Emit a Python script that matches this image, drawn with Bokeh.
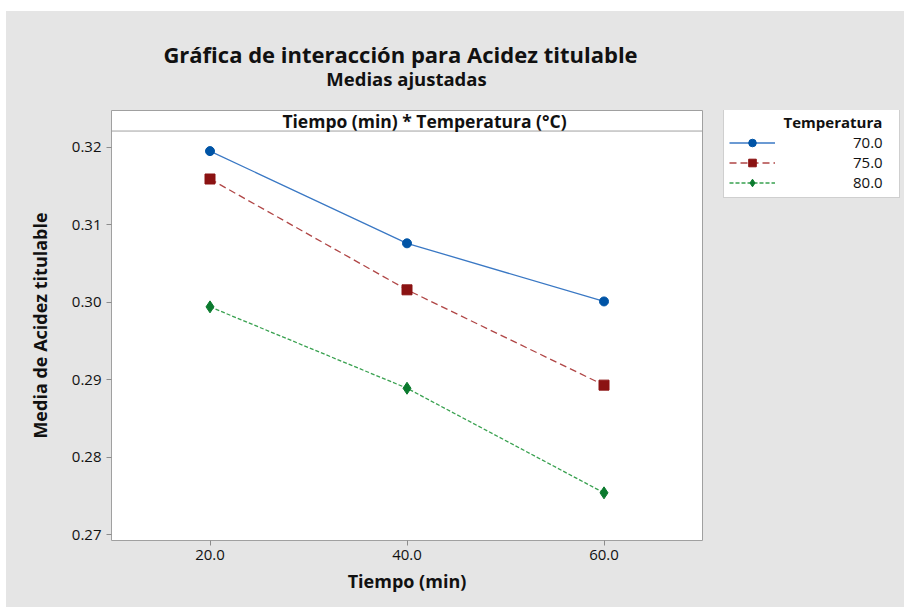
from bokeh.plotting import figure
from bokeh.models import (FixedTicker, PrintfTickFormatter, Label, Legend, LegendItem,
                          Span, Spacer)
from bokeh.layouts import row, column
from bokeh.embed import file_html
from bokeh.resources import INLINE

# ---- data ----
tiempo = [20, 40, 60]
temperaturas = ["70.0", "75.0", "80.0"]
media_70 = [0.3195, 0.3076, 0.3001]
media_75 = [0.3159, 0.3016, 0.2893]
media_80 = [0.2994, 0.2889, 0.2754]
y_ticks = [0.27, 0.28, 0.29, 0.30, 0.31, 0.32]
x_ticks = [20, 40, 60]

title_text = "Gráfica de interacción para Acidez titulable"
subtitle_text = "Medias ajustadas"
panel_text = "Tiempo (min) * Temperatura (°C)"
legend_title = "Temperatura"
x_label = "Tiempo (min)"
y_label = "Media de Acidez titulable"

FONT = "Open Sans"
BG = "#e5e5e5"
FRAME = "#a0a0a0"
INK = "#111111"

def blank_fig(w, h):
    f = figure(width=w, height=h, x_range=(0, 1), y_range=(0, 1),
               x_axis_type=None, y_axis_type=None, min_border=0,
               output_backend="svg", toolbar_location=None,
               background_fill_alpha=0, border_fill_alpha=0)
    f.outline_line_color = None
    return f

# ---- title strip ----
p_top = blank_fig(898, 98)
p_top.add_layout(Label(x=394, y=56, x_units="screen", y_units="screen", text=title_text,
                       text_align="center", text_baseline="middle", text_font=FONT,
                       text_font_size="22px", text_font_style="bold", text_color=INK))
p_top.add_layout(Label(x=400, y=31, x_units="screen", y_units="screen", text=subtitle_text,
                       text_align="center", text_baseline="middle", text_font=FONT,
                       text_font_size="18.5px", text_font_style="bold", text_color=INK))

# ---- main plot ----
p = figure(width=710, height=498, x_range=(10, 70), y_range=(0.26925, 0.32474),
           output_backend="svg", toolbar_location=None, title=None,
           min_border_left=105, min_border_right=14, min_border_top=1,
           min_border_bottom=67, background_fill_color="white",
           border_fill_alpha=0)
p.outline_line_color = FRAME
p.outline_line_width = 1
p.grid.visible = False

p.xaxis.ticker = FixedTicker(ticks=x_ticks)
p.xaxis.formatter = PrintfTickFormatter(format="%.1f")
p.yaxis.ticker = FixedTicker(ticks=y_ticks)
p.yaxis.formatter = PrintfTickFormatter(format="%.2f")
p.xaxis.axis_label = x_label
p.yaxis.axis_label = y_label
for ax in (p.xaxis[0], p.yaxis[0]):
    ax.axis_line_color = None
    ax.major_tick_line_color = "#8c8c8c"
    ax.major_tick_out = 5
    ax.major_tick_in = 0
    ax.minor_tick_line_color = None
    ax.major_label_text_font = FONT
    ax.major_label_text_font_size = "15px"
    ax.major_label_text_color = INK
    ax.axis_label_text_font = FONT
    ax.axis_label_text_font_size = "18px"
    ax.axis_label_text_font_style = "bold"
    ax.axis_label_text_color = INK
p.xaxis.major_label_standoff = 4
p.xaxis.axis_label_standoff = 6
p.yaxis.major_label_standoff = 5
p.yaxis.axis_label_standoff = 17

# panel header divider and text
p.add_layout(Span(location=0.32209, dimension="width", line_color=FRAME, line_width=1))
p.add_layout(Label(x=313, y=420, x_units="screen", y_units="screen", text=panel_text,
                   text_align="center", text_baseline="middle", text_font=FONT,
                   text_font_size="17.5px", text_font_style="bold", text_color=INK))

series = [media_70, media_75, media_80]
marker_colors = ["#0054a6", "#8b1313", "#0b7a2e"]
line_colors = ["#3a78c4", "#b04646", "#39a150"]
dashes = ["solid", "7 4", "4 2"]
markers = ["circle", "square", "diamond"]
sizes = [9, 10, 12]

for vals, mc, lc, dash, mk, sz in zip(series, marker_colors, line_colors, dashes,
                                      markers, sizes):
    p.line(tiempo, vals, line_color=lc, line_width=1.3, line_dash=dash)
    p.scatter(tiempo, vals, marker=mk, size=sz, fill_color=mc, line_color=mc)

# ---- legend panel (its frame is aligned with the main frame) ----
# series are re-plotted here outside the visible range, only to feed the legend glyphs
p_leg = blank_fig(187, 498)
items = []
for vals, mc, lc, dash, mk, sz, lab in zip(series, marker_colors, line_colors, dashes,
                                           markers, sizes, temperaturas):
    lr = p_leg.line(tiempo, vals, line_color=lc, line_width=1.3, line_dash=dash)
    sr = p_leg.scatter(tiempo, vals, marker=mk, size=sz, fill_color=mc, line_color=mc)
    items.append(LegendItem(label=lab, renderers=[lr, sr]))

legend = Legend(items=items, location=(7, 342))
legend.title = "\u00a0" * 14 + legend_title
legend.title_text_font = FONT
legend.title_text_font_size = "15px"
legend.title_text_font_style = "bold"
legend.title_text_color = INK
legend.title_text_line_height = 0.9
legend.title_standoff = 0
legend.padding = 5
legend.glyph_width = 46
legend.glyph_height = 19
legend.label_height = 19
legend.label_width = 41
legend.spacing = 0
legend.label_standoff = 78
legend.label_text_font = FONT
legend.label_text_font_size = "15px"
legend.label_text_color = INK
legend.border_line_color = FRAME
legend.border_line_width = 1
legend.background_fill_color = "white"
legend.background_fill_alpha = 1
legend.margin = 0
p_leg.add_layout(legend)

inner = column(p_top, row(p, p_leg), styles={"background-color": BG})
layout = column(Spacer(height=11), row(Spacer(width=6), inner))
open("out.html", "w").write(file_html(layout, INLINE))
